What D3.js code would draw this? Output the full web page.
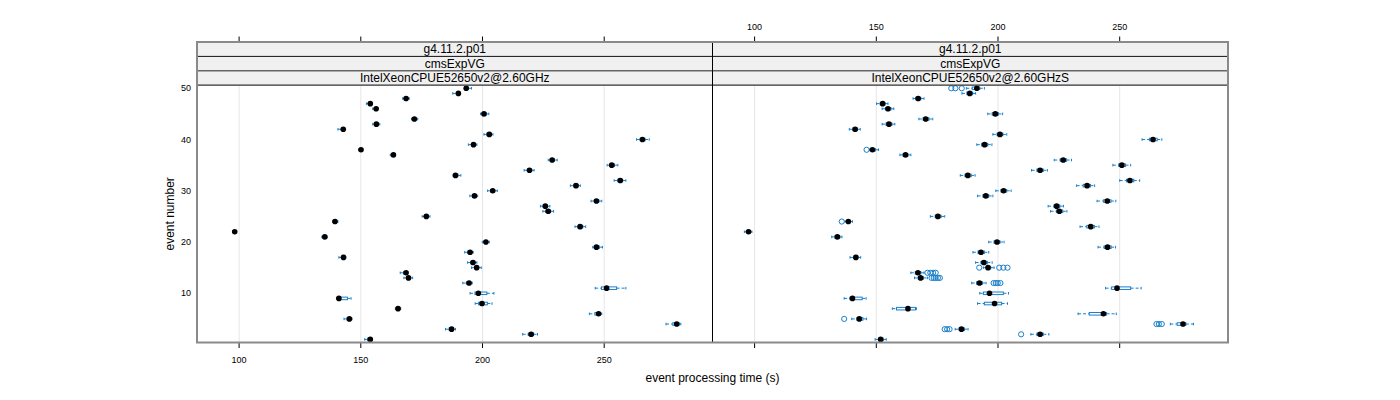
<!DOCTYPE html>
<html>
<head>
<meta charset="utf-8">
<script src="https://cdn.jsdelivr.net/npm/d3@7"></script>
<style>
  html, body { margin: 0; padding: 0; background: #fff; }
  svg { display: block; font-family: "Liberation Sans", Arial, Helvetica, sans-serif; }
</style>
</head>
<body>
<svg id="chart" width="1400" height="400"></svg>
<script>
// ---------------- data ----------------
const events = [1,2,3,4,5,6,7,8,9,10,11,12,13,14,15,16,17,18,19,20,21,22,23,24,25,
                26,27,28,29,30,31,32,33,34,35,36,37,38,39,40,41,42,43,44,45,46,47,48,49,50];
const stripVersion = ["g4.11.2.p01", "g4.11.2.p01"];
const stripConfig = ["cmsExpVG", "cmsExpVG"];
const stripCpu = ["IntelXeonCPUE52650v2@2.60GHz", "IntelXeonCPUE52650v2@2.60GHzS"];
const xTicks = [100, 150, 200, 250];
const yTicks = [10, 20, 30, 40, 50];
const xTitle = "event processing time (s)";
const yTitle = "event number";

// left panel (events 1..50)
const medL = [153.9,220.0,187.3,279.8,145.3,247.7,165.3,199.8,141.0,198.3,251.0,194.5,169.6,168.6,197.6,196.1,142.9,194.9,246.8,201.4,
              135.2,98.2,240.1,139.4,176.9,227.0,225.8,246.8,196.7,204.2,238.4,256.6,188.9,219.3,253.1,228.6,163.4,150.1,196.3,265.7,
              202.8,142.8,156.4,172.0,200.6,156.3,153.9,168.6,190.1,193.3];
const loL  = [151.6,216.5,184.8,275.4,143.1,243.9,164.2,197.0,140.0,194.9,246.3,191.9,167.7,166.2,195.5,193.9,141.0,192.7,245.3,199.9,
              134.0,97.5,238.0,138.4,175.2,224.8,223.8,244.6,194.8,202.1,236.1,254.1,187.9,217.1,251.2,227.0,162.1,149.1,194.2,263.3,
              200.6,140.6,154.9,170.8,199.2,154.9,152.3,167.2,187.8,192.6];
const hiL  = [154.5,222.6,188.9,281.5,146.4,249.0,166.4,203.9,146.0,204.7,258.9,195.8,171.3,169.4,199.5,197.7,143.8,196.2,249.3,202.8,
              136.2,98.8,242.4,140.6,178.4,229.2,227.7,249.0,198.0,206.1,240.2,258.9,191.1,221.2,255.6,230.7,164.0,150.5,197.7,268.5,
              204.3,143.2,157.8,173.4,202.6,157.0,154.5,169.9,190.7,195.5];
const q1L  = [152.8,218.8,186.3,278.2,144.4,246.2,164.9,198.4,140.6,196.9,248.9,193.4,169.0,167.6,196.8,195.2,142.2,194.0,246.2,200.8,
              134.8,97.9,239.3,139.0,176.2,226.0,225.0,246.0,196.0,203.4,237.6,255.6,188.5,218.5,252.4,228.0,162.9,149.7,195.6,264.8,
              201.8,142.0,155.8,171.5,200.0,155.6,153.2,168.0,189.3,193.0];
const q3L  = [154.2,221.0,188.0,280.8,145.8,248.3,165.8,202.0,144.5,201.8,255.1,195.1,170.4,169.0,198.4,196.8,143.3,195.6,248.0,202.0,
              135.6,98.5,241.2,140.0,177.6,228.0,226.6,247.8,197.2,205.0,239.3,257.6,189.9,220.2,254.2,229.5,163.7,150.3,197.0,266.8,
              203.4,143.0,157.0,172.6,201.5,156.6,154.2,169.2,190.6,194.2];
const outEventL = [];
const outValueL = [];

// right panel (events 1..50)
const medR = [151.8,217.3,185.0,276.0,143.0,243.3,163.0,198.6,140.2,196.5,248.9,192.4,168.2,167.1,195.9,194.2,141.6,193.0,245.0,199.6,
              134.0,97.5,238.1,138.5,175.3,225.2,224.1,244.9,195.0,202.3,236.6,254.2,187.6,217.3,250.9,226.8,162.0,148.4,194.5,263.7,
              200.8,141.3,155.2,170.3,198.9,154.8,152.6,167.2,188.4,191.3];
const loR  = [149.5,213.5,182.4,270.8,139.9,232.9,156.6,191.6,136.8,192.5,244.2,189.2,165.7,164.2,194.0,190.8,139.2,189.7,241.1,196.2,
              131.7,95.8,233.7,137.1,172.2,221.6,220.6,240.7,191.6,199.1,232.3,250.0,184.5,213.8,247.2,223.1,159.7,147.3,191.3,259.2,
              197.9,138.9,152.4,167.5,195.8,152.4,150.1,165.1,185.2,187.0];
const hiR  = [154.1,220.9,187.7,280.3,146.0,248.6,166.5,203.9,145.8,204.3,258.8,195.1,171.0,169.6,198.4,197.6,143.6,196.2,248.3,202.5,
              135.9,98.9,241.5,140.2,178.1,228.3,226.9,248.4,197.9,205.4,239.7,258.2,190.6,220.3,254.5,230.2,164.2,150.9,197.5,267.3,
              203.6,143.4,157.6,173.2,201.9,157.2,154.8,169.6,190.8,194.4];
const q1R  = [150.9,216.0,184.0,273.6,142.0,237.5,158.3,194.4,139.2,194.0,246.7,191.2,167.2,166.0,195.2,193.0,140.8,191.8,243.6,198.4,
              133.0,97.0,236.5,138.0,174.2,224.0,223.0,243.4,193.8,201.2,235.0,252.8,186.4,216.0,249.6,225.6,161.0,147.9,193.2,262.2,
              199.6,140.4,154.0,169.2,197.6,153.8,151.6,166.2,187.2,189.4];
const q3R  = [152.8,218.6,186.2,277.2,144.5,244.6,166.1,201.5,144.2,202.2,254.5,193.6,169.4,168.3,197.0,195.6,142.4,194.4,246.5,200.8,
              135.0,98.0,239.6,139.2,176.6,226.6,225.4,246.4,196.2,203.6,238.0,255.8,189.0,218.6,252.4,228.2,163.0,149.6,195.8,265.4,
              202.0,142.2,156.4,171.6,200.2,156.0,153.6,168.3,189.6,192.5];
const outEventR = [50,50,50, 38, 24, 15,15,15,15, 14,14,14,14, 13,13,13,13,13, 12,12,12,12, 5, 4,4,4, 3,3,3, 2];
const outValueR = [180.8,182.5,185.1, 146.0, 135.8, 192.3,200.5,202.2,203.9, 171.0,172.2,173.3,174.4,
                   172.7,173.6,174.4,175.3,176.1, 198.2,199.1,199.9,201.0, 136.8, 265.1,266.1,267.3, 178.1,179.1,180.1, 209.5];

// ---------------- layout ----------------
const svg = d3.select("#chart");
const left = 197, mid = 712.5, right = 1228;
const stripTop = 42, stripH = 14.4;
const panelTop = stripTop + 3 * stripH;
const panelBottom = 342.5;
const blue = "#1a7fc9";
const xDomain = [82.7, 294.5];
const yScale = d3.scaleLinear().domain([0.4, 50.6]).range([panelBottom, panelTop]);

const panels = [
  { x0: left, x1: mid, med: medL, lo: loL, hi: hiL, q1: q1L, q3: q3L, oe: outEventL, ov: outValueL,
    strips: [stripVersion[0], stripConfig[0], stripCpu[0]], topLabels: false, bottomLabels: true },
  { x0: mid, x1: right, med: medR, lo: loR, hi: hiR, q1: q1R, q3: q3R, oe: outEventR, ov: outValueR,
    strips: [stripVersion[1], stripConfig[1], stripCpu[1]], topLabels: true, bottomLabels: false }
];

const boxH = yScale(0) - yScale(0.5);

panels.forEach(p => {
  const x = d3.scaleLinear().domain(xDomain).range([p.x0, p.x1]);
  const g = svg.append("g");

  g.selectAll("line.grid").data(xTicks).join("line")
    .attr("x1", d => x(d)).attr("x2", d => x(d))
    .attr("y1", panelTop).attr("y2", panelBottom)
    .attr("stroke", "#e6e6e6").attr("stroke-width", 1);

  p.strips.forEach((s, i) => {
    const y0 = stripTop + i * stripH;
    g.append("rect").attr("x", p.x0).attr("y", y0).attr("width", p.x1 - p.x0).attr("height", stripH)
      .attr("fill", "#f0f0f0");
    g.append("text").attr("x", (p.x0 + p.x1) / 2).attr("y", y0 + stripH / 2 + 4.2)
      .attr("text-anchor", "middle").attr("font-size", 12).attr("fill", "#000").text(s);
  });

  const data = events.map((e, i) => ({ e, med: p.med[i], lo: p.lo[i], hi: p.hi[i], q1: p.q1[i], q3: p.q3[i] }));
  const bp = g.append("g");
  data.forEach(d => {
    const yc = yScale(d.e);
    bp.append("line").attr("x1", x(d.lo)).attr("x2", x(d.q1)).attr("y1", yc).attr("y2", yc)
      .attr("stroke", blue).attr("stroke-width", 1).attr("stroke-dasharray", "3,2");
    bp.append("line").attr("x1", x(d.q3)).attr("x2", x(d.hi)).attr("y1", yc).attr("y2", yc)
      .attr("stroke", blue).attr("stroke-width", 1).attr("stroke-dasharray", "3,2");
    [d.lo, d.hi].forEach(v => {
      bp.append("line").attr("x1", x(v)).attr("x2", x(v)).attr("y1", yc - boxH / 2).attr("y2", yc + boxH / 2)
        .attr("stroke", blue).attr("stroke-width", 1);
    });
    bp.append("rect").attr("x", x(d.q1)).attr("y", yc - boxH / 2)
      .attr("width", Math.max(0.5, x(d.q3) - x(d.q1))).attr("height", boxH)
      .attr("fill", "none").attr("stroke", blue).attr("stroke-width", 1);
  });
  g.selectAll("circle.out").data(p.oe.map((e, i) => ({ e, v: p.ov[i] }))).join("circle")
    .attr("cx", d => x(d.v)).attr("cy", d => yScale(d.e)).attr("r", 2.6)
    .attr("fill", "none").attr("stroke", blue).attr("stroke-width", 1);
  g.selectAll("circle.med").data(data).join("circle")
    .attr("cx", d => x(d.med)).attr("cy", d => yScale(d.e)).attr("r", 2.8)
    .attr("fill", "#000");

  g.selectAll("line.tt").data(xTicks).join("line")
    .attr("x1", d => x(d)).attr("x2", d => x(d)).attr("y1", stripTop - 5.5).attr("y2", stripTop)
    .attr("stroke", "#000").attr("stroke-width", 1);
  g.selectAll("line.bt").data(xTicks).join("line")
    .attr("x1", d => x(d)).attr("x2", d => x(d)).attr("y1", panelBottom).attr("y2", panelBottom + 5.5)
    .attr("stroke", "#000").attr("stroke-width", 1);
  if (p.topLabels) {
    g.selectAll("text.tl").data(xTicks).join("text")
      .attr("x", d => x(d)).attr("y", 30).attr("text-anchor", "middle")
      .attr("font-size", 9).text(d => d);
  }
  if (p.bottomLabels) {
    g.selectAll("text.bl").data(xTicks).join("text")
      .attr("x", d => x(d)).attr("y", 363).attr("text-anchor", "middle")
      .attr("font-size", 9).text(d => d);
  }
});

[1, 2].forEach(i => {
  svg.append("line").attr("x1", left).attr("x2", right)
    .attr("y1", stripTop + i * stripH).attr("y2", stripTop + i * stripH)
    .attr("stroke", i === 1 ? "#111" : "#666").attr("stroke-width", i === 1 ? 1 : 1.5);
});
svg.append("line").attr("x1", left).attr("x2", right).attr("y1", panelTop).attr("y2", panelTop)
  .attr("stroke", "#333").attr("stroke-width", 1.2);
svg.append("line").attr("x1", mid).attr("x2", mid).attr("y1", stripTop).attr("y2", panelBottom)
  .attr("stroke", "#000").attr("stroke-width", 1);
svg.append("rect").attr("x", left).attr("y", stripTop).attr("width", right - left).attr("height", panelBottom - stripTop)
  .attr("fill", "none").attr("stroke", "#8a8a8a").attr("stroke-width", 2);

svg.selectAll("text.yl").data(yTicks).join("text")
  .attr("x", 191).attr("y", d => yScale(d) + 3.2).attr("text-anchor", "end")
  .attr("font-size", 9).text(d => d);

svg.append("text").attr("x", (left + right) / 2).attr("y", 382).attr("text-anchor", "middle")
  .attr("font-size", 12).text(xTitle);
svg.append("text").attr("transform", `translate(174,${(panelTop + panelBottom) / 2}) rotate(-90)`)
  .attr("text-anchor", "middle").attr("font-size", 12).text(yTitle);
</script>
</body>
</html>
